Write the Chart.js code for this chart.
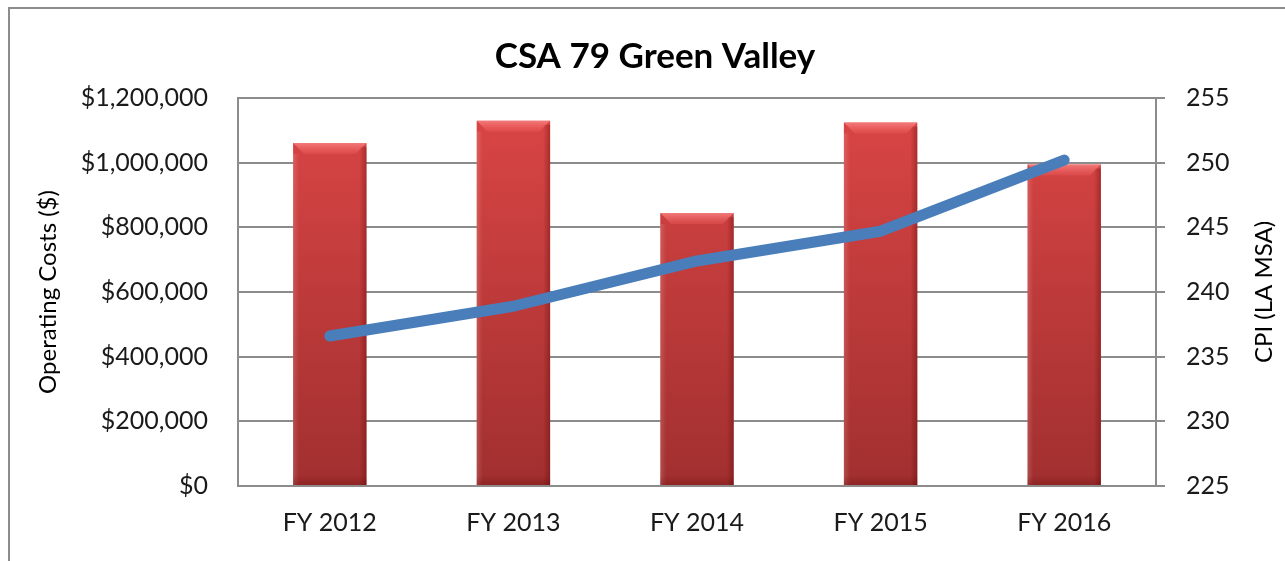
<!DOCTYPE html>
<html>
<head>
<meta charset="utf-8">
<script src="https://cdn.jsdelivr.net/npm/chart.js@4/dist/chart.umd.min.js"></script>
<style>
  html, body { margin: 0; padding: 0; background: #fff; overflow: hidden; }
  #frame { position: absolute; left: 8px; top: 7px; width: 1400px; height: 700px; border: 2px solid #8c8c8c; }
  #wrap { position: absolute; left: 0; top: 0; width: 1285px; height: 561px; }
</style>
</head>
<body>
<div id="frame"></div>
<div id="wrap"><canvas id="myChart" width="1285" height="561"></canvas></div>
<script>
const chartTitle = 'CSA 79 Green Valley';
const categories = ['FY 2012', 'FY 2013', 'FY 2014', 'FY 2015', 'FY 2016'];
const operatingCosts = [1061000, 1130000, 844000, 1124000, 994000];
const cpiLaMsa = [236.6, 238.9, 242.4, 244.7, 250.2];
const leftAxisTitle = 'Operating Costs ($)';
const rightAxisTitle = 'CPI (LA MSA)';

const fontFamily = 'Lato, "Open Sans", sans-serif';
const gridColor = '#8c8c8c';

// title + right axis title (rotated the same way as the left one)
const textPlugin = {
    id: 'textPlugin',
    afterDraw(chart) {
        const ctx = chart.ctx;
        const area = chart.chartArea;
        ctx.save();
        ctx.fillStyle = '#000';
        ctx.font = 'bold 35px ' + fontFamily;
        ctx.textAlign = 'center';
        ctx.textBaseline = 'middle';
        ctx.fillText(chartTitle, 655, 57);

        ctx.font = '24px ' + fontFamily;
        ctx.translate(1264, (area.top + area.bottom) / 2);
        ctx.rotate(-Math.PI / 2);
        ctx.fillText(rightAxisTitle, 0, 0);
        ctx.restore();
    }
};

// bevel shading on the bars
const bevelPlugin = {
    id: 'bevelPlugin',
    afterDatasetDraw(chart, args) {
        if (args.index !== 1) return;
        const ctx = chart.ctx;
        args.meta.data.forEach(bar => {
            const p = bar.getProps(['x', 'y', 'base', 'width'], true);
            const l = p.x - p.width / 2, r = p.x + p.width / 2;
            const b = 11;
            ctx.save();
            // top bevel
            let g = ctx.createLinearGradient(0, p.y, 0, p.y + b);
            g.addColorStop(0, 'rgba(255,140,140,0.75)');
            g.addColorStop(1, 'rgba(240,90,90,0.35)');
            ctx.fillStyle = g;
            ctx.beginPath();
            ctx.moveTo(l, p.y);
            ctx.lineTo(r, p.y);
            ctx.lineTo(r - b, p.y + b);
            ctx.lineTo(l + b, p.y + b);
            ctx.closePath();
            ctx.fill();
            // left edge
            g = ctx.createLinearGradient(l, 0, l + 6, 0);
            g.addColorStop(0, 'rgba(255,255,255,0.15)');
            g.addColorStop(1, 'rgba(255,255,255,0)');
            ctx.fillStyle = g;
            ctx.fillRect(l, p.y + b, 6, p.base - p.y - b);
            // right edge
            g = ctx.createLinearGradient(r - 7, 0, r, 0);
            g.addColorStop(0, 'rgba(90,0,0,0)');
            g.addColorStop(1, 'rgba(90,0,0,0.35)');
            ctx.fillStyle = g;
            ctx.fillRect(r - 7, p.y + 4, 7, p.base - p.y - 4);
            // bottom band
            g = ctx.createLinearGradient(0, p.base - 10, 0, p.base);
            g.addColorStop(0, 'rgba(90,0,0,0)');
            g.addColorStop(1, 'rgba(90,0,0,0.25)');
            ctx.fillStyle = g;
            ctx.fillRect(l, p.base - 10, p.width, 10);
            ctx.restore();
        });
    }
};

function barFill(context) {
    const chart = context.chart;
    const area = chart.chartArea;
    if (!area) return '#c93b3b';
    const g = chart.ctx.createLinearGradient(0, area.top, 0, area.bottom);
    g.addColorStop(0, '#dc4646');
    g.addColorStop(1, '#a12f2f');
    return g;
}

let ctx = document.getElementById('myChart').getContext('2d');
let myChart = new Chart(ctx, {
    type: 'bar',
    data: {
        labels: categories,
        datasets: [
            {
                type: 'line',
                label: rightAxisTitle,
                data: cpiLaMsa,
                yAxisID: 'y1',
                borderColor: '#4a7ebb',
                borderWidth: 11,
                borderCapStyle: 'round',
                borderJoinStyle: 'round',
                pointRadius: 0,
                tension: 0,
                order: 0
            },
            {
                label: leftAxisTitle,
                data: operatingCosts,
                yAxisID: 'y',
                backgroundColor: barFill,
                borderWidth: 0,
                categoryPercentage: 1,
                barPercentage: 0.4,
                order: 1
            }
        ]
    },
    options: {
        responsive: false,
        animation: false,
        layout: { padding: { top: 98, left: 0, right: 0, bottom: 0 } },
        plugins: {
            legend: { display: false },
            tooltip: { enabled: false }
        },
        scales: {
            x: {
                grid: { drawOnChartArea: false, drawTicks: false },
                border: { display: true, color: gridColor, width: 2 },
                ticks: { color: '#1a1a1a', padding: 22, font: { family: fontFamily, size: 25 } },
                afterFit: s => { s.height = 75; }
            },
            y: {
                position: 'left',
                min: 0,
                max: 1200000,
                ticks: {
                    stepSize: 200000,
                    padding: 30,
                    color: '#1a1a1a',
                    font: { family: fontFamily, size: 25 },
                    callback: v => '$' + v.toLocaleString('en-US')
                },
                grid: { color: gridColor, lineWidth: 2, drawTicks: false },
                border: { display: true, color: gridColor, width: 2 },
                title: {
                    display: true,
                    text: leftAxisTitle,
                    color: '#000',
                    font: { family: fontFamily, size: 24 },
                    padding: { top: 34, bottom: 0 }
                },
                afterFit: s => { s.width = 238; }
            },
            y1: {
                position: 'right',
                min: 225,
                max: 255,
                ticks: {
                    stepSize: 5,
                    padding: 21,
                    color: '#1a1a1a',
                    font: { family: fontFamily, size: 25 }
                },
                grid: { drawOnChartArea: false, drawTicks: true, tickLength: 9, color: gridColor, lineWidth: 2 },
                border: { display: true, color: gridColor, width: 2 },
                afterFit: s => { s.width = 1285 - 1156; }
            }
        }
    },
    plugins: [bevelPlugin, textPlugin]
});
</script>
</body>
</html>
